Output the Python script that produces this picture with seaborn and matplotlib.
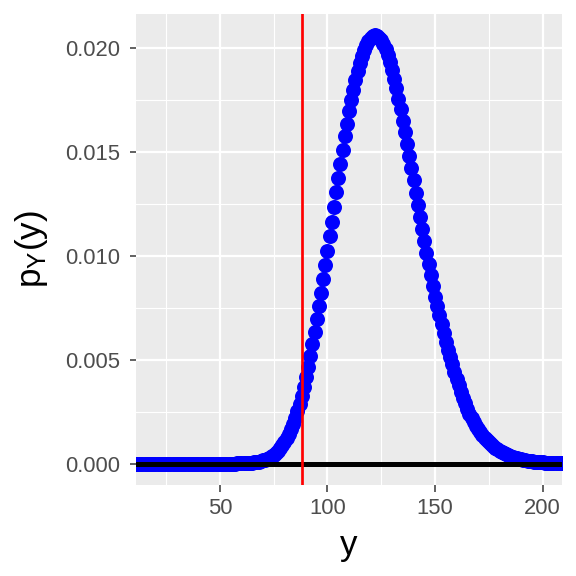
import matplotlib
matplotlib.use('Agg')
import matplotlib.pyplot as plt
from matplotlib.ticker import MultipleLocator, FormatStrFormatter
import seaborn as sns
import pandas as pd

# values y = 0..215
y_values = list(range(0, 216))
p_values = [0.0] * 58 + [
    0.0000063, 0.0000085, 0.0000114, 0.0000152, 0.0000202,
    0.0000267, 0.0000350, 0.0000456, 0.0000590, 0.0000755, 0.0000961, 0.000122,
    0.000153, 0.000190, 0.000236, 0.000290, 0.000355, 0.00043, 0.00052, 0.00063, 0.00075, 0.00089,
    0.00105, 0.00124, 0.00144, 0.00167, 0.00193, 0.00222, 0.00254, 0.00288, 0.00326, 0.00370,
    0.00417, 0.00467, 0.00519, 0.00575, 0.00633, 0.00695, 0.00757, 0.00821, 0.00888, 0.00956,
    0.01025, 0.01095, 0.01166, 0.01237, 0.01307, 0.01377, 0.01445, 0.01512, 0.01576, 0.01638,
    0.01697, 0.01751, 0.01801, 0.01848, 0.01891, 0.01930, 0.01965, 0.01994, 0.02019, 0.02038,
    0.02052, 0.02060, 0.02063, 0.02060, 0.02052, 0.02039, 0.02020, 0.01996, 0.01968, 0.01934,
    0.01896, 0.01855, 0.01809, 0.01759, 0.01708, 0.01652, 0.01597, 0.01540, 0.01482, 0.01424,
    0.01365, 0.01306, 0.01247, 0.01188, 0.01130, 0.01072, 0.01016, 0.00961, 0.00907, 0.00855,
    0.00804, 0.00759, 0.00714, 0.00672, 0.00628, 0.00586, 0.00549, 0.00514, 0.00478, 0.00443,
    0.00408, 0.00377, 0.00345, 0.00318, 0.00290, 0.00264, 0.00239, 0.00219, 0.00200, 0.00183,
    0.00167, 0.00152, 0.00138, 0.00124, 0.00112, 0.00102, 0.00092, 0.00083, 0.00075, 0.00068,
    0.00062, 0.00056, 0.00050, 0.00045, 0.00040, 0.00036, 0.00032, 0.00028, 0.00025, 0.00022,
    0.00020, 0.00018, 0.00016, 0.00014, 0.00012, 0.00011, 0.000095, 0.000084, 0.000074, 0.000065,
    0.000057, 0.000050, 0.000044, 0.000038, 0.000033, 0.000029, 0.000025, 0.000021, 0.000018, 0.000016,
    0.000013, 0.000011, 0.000010, 0.000008, 0.000007, 0.000006,
]
cutoff = 88
x_range = (20, 200)

df = pd.DataFrame({'y': y_values, 'p': p_values})

plt.rcParams['font.family'] = ['Liberation Sans', 'DejaVu Sans']
plt.rcParams['mathtext.default'] = 'regular'

# 8in at 72dpi -> 576px, so 1pt == 1px
fig = plt.figure(figsize=(8, 8), dpi=72)
ax = fig.add_axes([136 / 576, 1 - 485 / 576, 426 / 576, 471 / 576])

sns.scatterplot(data=df, x='y', y='p', color='#0000FF', s=225, linewidth=0,
                ax=ax, zorder=3, legend=False)
ax.axhline(0, color='black', lw=5, zorder=4)
ax.axvline(cutoff, color='red', lw=2.7, zorder=5)

# ggplot-like expansion of 5%
span = x_range[1] - x_range[0]
ax.set_xlim(x_range[0] - 0.05 * span, x_range[1] + 0.05 * span)
pmax = max(p_values)
ax.set_ylim(-0.05 * pmax, 1.05 * pmax)

ax.set_facecolor('#EBEBEB')
for s in ax.spines.values():
    s.set_visible(False)
ax.xaxis.set_major_locator(MultipleLocator(50))
ax.xaxis.set_minor_locator(MultipleLocator(25))
ax.yaxis.set_major_locator(MultipleLocator(0.005))
ax.yaxis.set_minor_locator(MultipleLocator(0.0025))
ax.yaxis.set_major_formatter(FormatStrFormatter('%.3f'))
ax.grid(which='major', color='white', lw=2.2)
ax.grid(which='minor', color='white', lw=1.1)
ax.set_axisbelow(True)

ax.tick_params(which='major', length=6.5, width=1.5, color='#333333',
               labelsize=22, labelcolor='#4D4D4D')
ax.tick_params(axis='x', pad=7)
ax.tick_params(axis='y', pad=9)
ax.tick_params(which='minor', length=0)

ax.set_xlabel('y', fontsize=35, labelpad=10)
ax.set_ylabel(r'$p_Y(y)$', fontsize=35, labelpad=15)

fig.savefig('out.png', dpi=72)
